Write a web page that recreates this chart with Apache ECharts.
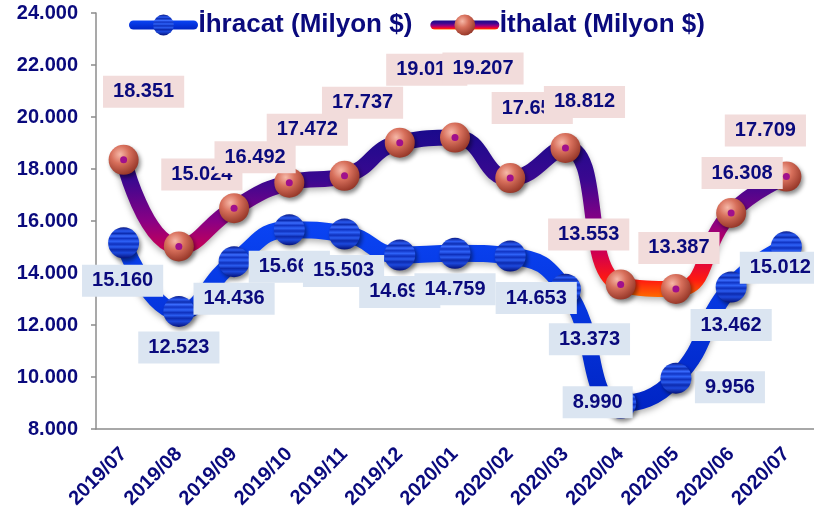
<!DOCTYPE html>
<html>
<head>
<meta charset="utf-8">
<script src="https://cdn.jsdelivr.net/npm/echarts@6/dist/echarts.min.js"></script>
<style>
  html, body { margin: 0; padding: 0; background: #fff; }
  #chart { width: 814px; height: 516px; }
</style>
</head>
<body>
<div id="chart"></div>
<script>
// aylar
var months = ['2019/07', '2019/08', '2019/09', '2019/10', '2019/11', '2019/12', '2020/01',
              '2020/02', '2020/03', '2020/04', '2020/05', '2020/06', '2020/07'];
// Milyon $
var ihracat = [15160, 12523, 14436, 15662, 15503, 14693, 14759, 14653, 13373, 8990, 9956, 13462, 15012];
var ithalat = [18351, 15024, 16492, 17472, 17737, 19013, 19207, 17650, 18812, 13553, 13387, 16308, 17709];
var yTicks = [8000, 10000, 12000, 14000, 16000, 18000, 20000, 22000, 24000];

// etiket kaydirmalari (nokta merkezinden, px)
var ihrLabelOffsets = [[-1, 38], [0, 36], [0, 37], [0, 37], [-1, 37], [0, 37], [0, 36],
                       [26, 42], [24, 50], [-23, -1], [54, 9], [0, 38], [-6, 21]];
var ithLabelOffsets = [[20, -68], [23, -72], [21, -51], [18, -53], [18, -73], [27, -73], [28, -69],
                       [22, -70], [19, -46], [-32, -50], [3, -41], [11, -40], [-21, -46]];

var navy = '#0a0a7d';
var font = 'Liberation Sans, Arial, sans-serif';

function fmt(v) {
    return (v / 1000).toFixed(3);
}

function labelStyle(bg) {
    return {
        show: true,
        position: 'inside',
        formatter: function (p) { return fmt(p.value); },
        color: navy,
        fontFamily: font,
        fontWeight: 'bold',
        fontSize: 20,
        lineHeight: 20,
        backgroundColor: bg,
        padding: [6, 10]
    };
}

function withOffsets(values, offsets) {
    return values.map(function (v, i) {
        return { value: v, label: { offset: offsets[i] } };
    });
}

// mavi kure: yatay seritler
var blueBall = new echarts.graphic.LinearGradient(0, 0, 0, 1, [
    { offset: 0, color: '#0a1a86' },
    { offset: 0.12, color: '#2a5af0' },
    { offset: 0.2, color: '#0c2cb0' },
    { offset: 0.28, color: '#3a6cff' },
    { offset: 0.36, color: '#1034c4' },
    { offset: 0.45, color: '#2e62f8' },
    { offset: 0.54, color: '#0e30bc' },
    { offset: 0.63, color: '#2a5cf0' },
    { offset: 0.72, color: '#0c2aae' },
    { offset: 0.82, color: '#1c48dc' },
    { offset: 1, color: '#06127a' }
]);

var redBall = new echarts.graphic.RadialGradient(0.38, 0.32, 0.75, [
    { offset: 0, color: '#f6b8a8' },
    { offset: 0.4, color: '#d8705c' },
    { offset: 1, color: '#8e3022' }
]);

var ithLine = new echarts.graphic.LinearGradient(0, 0, 0, 1, [
    { offset: 0, color: '#1a0a8c' },
    { offset: 0.3, color: '#3a0890' },
    { offset: 0.55, color: '#8a0084' },
    { offset: 0.75, color: '#d4004c' },
    { offset: 0.9, color: '#ff1a10' },
    { offset: 1, color: '#ff6a00' }
]);

var ihrLine = new echarts.graphic.LinearGradient(0, 0, 0, 1, [
    { offset: 0, color: '#0a44f4' },
    { offset: 1, color: '#0024c4' }
]);

var chart = echarts.init(document.getElementById('chart'), null, { renderer: 'canvas' });
chart.setOption({
    animation: false,
    backgroundColor: '#fff',
    legend: {
        data: ['İhracat (Milyon $)', 'İthalat (Milyon $)'],
        left: 124,
        top: 7,
        itemWidth: 60,
        itemHeight: 26,
        itemGap: 18,
        lineStyle: { width: 9 },
        textStyle: { color: navy, fontFamily: font, fontWeight: 'bold', fontSize: 26 }
    },
    grid: { left: 96, right: -10, top: 13, bottom: 87 },
    xAxis: {
        type: 'category',
        data: months,
        axisLine: { lineStyle: { color: '#8c8c8c', width: 1.5 } },
        axisTick: { length: 5, lineStyle: { color: '#8c8c8c', width: 1.5 } },
        axisLabel: {
            rotate: 45, margin: 22, interval: 0,
            color: navy, fontFamily: font, fontWeight: 'bold', fontSize: 20
        },
        splitLine: { show: false }
    },
    yAxis: {
        type: 'value',
        min: yTicks[0],
        max: yTicks[yTicks.length - 1],
        interval: 2000,
        axisLine: { show: true, lineStyle: { color: '#8c8c8c', width: 1.5 } },
        axisTick: { show: true, length: 5, lineStyle: { color: '#8c8c8c', width: 1.5 } },
        axisLabel: {
            margin: 18, formatter: fmt,
            color: navy, fontFamily: font, fontWeight: 'bold', fontSize: 20
        },
        splitLine: { show: false }
    },
    series: [
        {
            name: 'İhracat (Milyon $)',
            type: 'line',
            smooth: 0.5,
            data: withOffsets(ihracat, ihrLabelOffsets),
            symbol: 'circle',
            symbolSize: 31,
            lineStyle: {
                width: 17, color: ihrLine, cap: 'round',
                shadowColor: 'rgba(0,0,0,0.3)', shadowBlur: 6, shadowOffsetY: 3
            },
            itemStyle: {
                color: blueBall, borderWidth: 0,
                shadowColor: 'rgba(0,0,0,0.45)', shadowBlur: 4, shadowOffsetX: 2, shadowOffsetY: 3
            },
            label: labelStyle('#dbe5f1'),
            z: 2
        },
        {
            name: 'İthalat (Milyon $)',
            type: 'line',
            smooth: 0.5,
            data: withOffsets(ithalat, ithLabelOffsets),
            symbol: 'circle',
            symbolSize: 30,
            lineStyle: {
                width: 16, color: ithLine, cap: 'round',
                shadowColor: 'rgba(0,0,0,0.3)', shadowBlur: 6, shadowOffsetY: 3
            },
            itemStyle: {
                color: redBall, borderWidth: 0,
                shadowColor: 'rgba(0,0,0,0.45)', shadowBlur: 4, shadowOffsetX: 2, shadowOffsetY: 3
            },
            label: labelStyle('#f2dcdb'),
            z: 3
        },
        {
            // kurelerin ortasindaki mor nokta
            name: 'ithalat-nokta',
            type: 'line',
            data: ithalat,
            symbol: 'circle',
            symbolSize: 7,
            lineStyle: { width: 0, opacity: 0 },
            itemStyle: { color: '#a0108c', borderWidth: 0 },
            label: { show: false },
            silent: true,
            z: 4
        }
    ]
});
</script>
</body>
</html>
